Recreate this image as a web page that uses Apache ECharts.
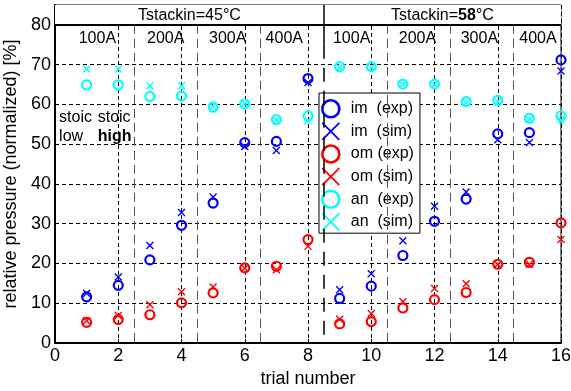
<!DOCTYPE html>
<html>
<head>
<meta charset="utf-8">
<script src="https://cdn.jsdelivr.net/npm/echarts@6/dist/echarts.min.js"></script>
<style>
  html, body { margin: 0; padding: 0; background: #fff; }
  #chart { width: 571px; height: 391px; }
</style>
</head>
<body>
<div id="chart"></div>
<script>
// Trial numbers and measured / simulated relative pressures [%]
const trials = [1, 2, 3, 4, 5, 6, 7, 8, 9, 10, 11, 12, 13, 14, 15, 16];
const imExp = [11.6, 14.5, 20.9, 29.6, 35.2, 50.4, 50.7, 66.5, 11.2, 14.3, 22.0, 30.6, 36.2, 52.6, 52.9, 71.2];
const imSim = [12.5, 16.6, 24.5, 32.8, 36.7, 49.4, 48.4, 65.5, 13.4, 17.4, 25.7, 34.4, 38.0, 51.1, 50.4, 68.4];
const omExp = [5.2, 5.9, 7.1, 10.1, 12.6, 18.9, 19.3, 26.0, 4.8, 5.4, 8.8, 10.9, 12.7, 19.8, 20.3, 30.2];
const omSim = [5.6, 6.9, 9.6, 12.9, 14.1, 18.8, 18.4, 24.3, 6.0, 7.4, 10.4, 13.7, 14.9, 19.8, 19.8, 26.0];
const anExp = [64.9, 64.9, 62.0, 62.1, 59.3, 60.1, 56.2, 57.1, 69.5, 69.5, 65.1, 65.1, 60.7, 61.0, 56.5, 57.1];
const anSim = [68.9, 68.9, 64.7, 64.7, 59.5, 60.2, 56.0, 55.9, 69.3, 69.3, 65.0, 65.0, 60.5, 60.7, 56.2, 56.0];

// Axis ticks
const xTicks = [0, 2, 4, 6, 8, 10, 12, 14, 16];
const yTicks = [0, 10, 20, 30, 40, 50, 60, 70, 80];

// Current levels and stack inlet temperature blocks
const currentLabels = ['100A', '200A', '300A', '400A', '100A', '200A', '300A', '400A'];
const currentLabelX = [1.34, 3.5, 5.46, 7.25, 9.38, 11.46, 13.42, 15.27];
const blockSplits = [2.5, 4.5, 6.5, 10.5, 12.5, 14.5];

const FONT = '"Liberation Sans", Arial, Helvetica, sans-serif';
const BLUE = '#0000ff', RED = '#ff0000', CYAN = '#00ffff';
const CROSS = 'path://M0,0L10,10M10,0L0,10';

function pairs(ys) { return trials.map((t, i) => [t, ys[i]]); }

function circleSeries(name, ys, color) {
  return {
    name, type: 'scatter', data: pairs(ys), symbol: 'circle', symbolSize: 9,
    itemStyle: { color: 'rgba(0,0,0,0)', borderColor: color, borderWidth: 2.2, opacity: 1 },
    z: 5, silent: true
  };
}
function crossSeries(name, ys, color) {
  return {
    name, type: 'scatter', data: pairs(ys), symbol: CROSS, symbolSize: 7,
    itemStyle: { color: 'rgba(0,0,0,0)', borderColor: color, borderWidth: 1.4, opacity: 1 },
    z: 5, silent: true
  };
}

const textSeriesData = [];
currentLabels.forEach((s, i) => textSeriesData.push({ value: [currentLabelX[i], 76.6], label: { formatter: s } }));
textSeriesData.push({ value: [4.25, 82.4], label: { formatter: 'Tstackin=45°C' } });
textSeriesData.push({ value: [12.25, 82.4], label: { formatter: 'Tstackin={b|58}°C' } });
textSeriesData.push({ value: [0.13, 56.8], label: { formatter: 'stoic', align: 'left' } });
textSeriesData.push({ value: [0.13, 51.9], label: { formatter: 'low', align: 'left' } });
textSeriesData.push({ value: [1.35, 56.8], label: { formatter: 'stoic', align: 'left' } });
textSeriesData.push({ value: [1.35, 51.9], label: { formatter: '{b|high}', align: 'left' } });

const legendNames = ['im  (exp)', 'im  (sim)', 'om (exp)', 'om (sim)', 'an  (exp)', 'an  (sim)'];
const legendColors = [BLUE, BLUE, RED, RED, CYAN, CYAN];

const option = {
  animation: false,
  backgroundColor: '#fff',
  textStyle: { fontFamily: FONT },
  grid: {
    left: 55, right: 10, top: 5, bottom: 48,
    containLabel: false, outerBoundsMode: 'none',
    show: true, borderColor: '#000', borderWidth: 1, backgroundColor: '#fff'
  },
  xAxis: {
    type: 'value', min: 0, max: 16, interval: 2,
    name: 'trial number', nameLocation: 'middle', nameGap: 22,
    nameTextStyle: { fontSize: 18, color: '#000', fontFamily: FONT },
    axisLine: { lineStyle: { color: '#000', width: 2 } },
    axisTick: { inside: true, length: 4, lineStyle: { color: '#000' } },
    axisLabel: {
      fontSize: 18, color: '#000', margin: 4, fontFamily: FONT,
      formatter: v => (xTicks.indexOf(v) >= 0 ? String(v) : '')
    },
    splitLine: { show: true, lineStyle: { color: '#000', type: [4, 3], width: 1 } }
  },
  yAxis: {
    type: 'value', min: 0, max: 85, interval: 10,
    name: 'relative pressure (normalized) [%]', nameLocation: 'middle', nameGap: 30,
    nameTextStyle: { fontSize: 18, color: '#000', fontFamily: FONT },
    axisLine: { lineStyle: { color: '#000', width: 2 } },
    axisTick: { inside: true, length: 4, lineStyle: { color: '#000' } },
    axisLabel: {
      fontSize: 18, color: '#000', margin: 4, fontFamily: FONT,
      formatter: v => (yTicks.indexOf(v) >= 0 ? String(v) : '')
    },
    splitLine: { show: true, lineStyle: { color: '#000', type: [4, 3], width: 1 } }
  },
  legend: {
    orient: 'vertical', left: 319, top: 93,
    backgroundColor: '#fff', borderColor: '#000', borderWidth: 1,
    padding: [6, 6, 2, 2],
    itemWidth: 26, itemHeight: 17, itemGap: 3.4,
    textStyle: { fontSize: 16, color: '#000', fontFamily: FONT, lineHeight: 17, padding: [0, 0, 0, 2] },
    data: legendNames.map((n, i) => ({
      name: n,
      icon: i % 2 === 0 ? 'circle' : CROSS,
      itemStyle: i % 2 === 0
        ? { color: 'rgba(0,0,0,0)', borderColor: legendColors[i], borderWidth: 2.6, opacity: 1 }
        : { color: 'rgba(0,0,0,0)', borderColor: legendColors[i], borderWidth: 1.8, opacity: 1 }
    }))
  },
  series: [
    // header band, block separators and annotations
    {
      type: 'scatter', data: [], z: 3, silent: true,
      markArea: {
        silent: true,
        itemStyle: { color: '#fff', borderWidth: 0, opacity: 1 },
        data: [[{ coord: [0, 80] }, { coord: [16, 85] }]]
      }
    },
    {
      type: 'scatter', data: [], z: 4, silent: true,
      markLine: {
        silent: true, symbol: 'none', label: { show: false },
        data: [
          [{ coord: [0, 80], lineStyle: { color: '#000', width: 2, type: 'solid' } }, { coord: [16, 80] }],
          [{ coord: [8.5, 85], lineStyle: { color: '#000', width: 1.5, type: 'solid' } }, { coord: [8.5, 75] }],
          [{ coord: [8.5, 75], lineStyle: { color: '#000', width: 1.5, type: [14, 9] } }, { coord: [8.5, 0] }]
        ].concat(blockSplits.map(x => [
          { coord: [x, 80], lineStyle: { color: '#555', width: 1, type: [9, 5] } }, { coord: [x, 0] }
        ]))
      }
    },
    {
      type: 'scatter', data: textSeriesData, symbolSize: 0, z: 6, silent: true,
      itemStyle: { color: '#000', opacity: 1 },
      label: {
        show: true, position: 'inside', color: '#000', fontSize: 16, fontFamily: FONT,
        align: 'center', verticalAlign: 'middle', opacity: 1,
        textBorderWidth: 0, textBorderColor: 'transparent',
        rich: { b: { fontWeight: 'bold', fontSize: 16, fontFamily: FONT, color: '#000', textBorderWidth: 0 } }
      }
    },
    circleSeries(legendNames[0], imExp, BLUE),
    crossSeries(legendNames[1], imSim, BLUE),
    circleSeries(legendNames[2], omExp, RED),
    crossSeries(legendNames[3], omSim, RED),
    circleSeries(legendNames[4], anExp, CYAN),
    crossSeries(legendNames[5], anSim, CYAN)
  ]
};

const chart = echarts.init(document.getElementById('chart'), null, { renderer: 'canvas' });
chart.setOption(option);
</script>
</body>
</html>
